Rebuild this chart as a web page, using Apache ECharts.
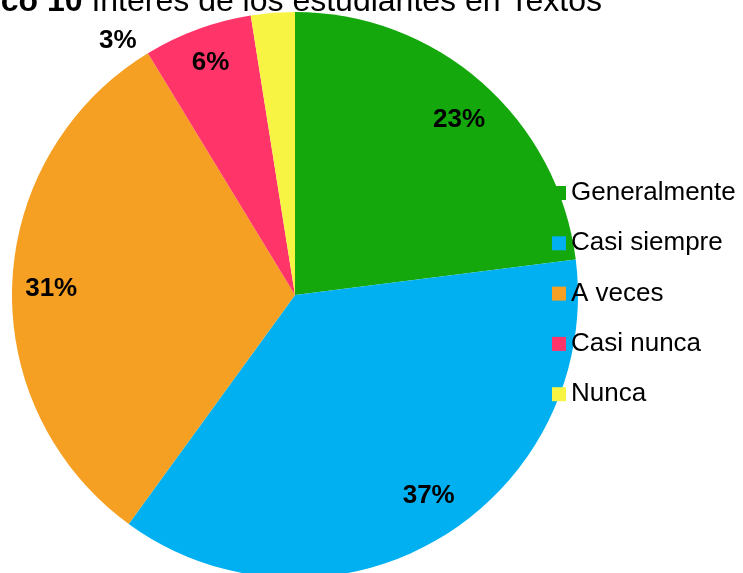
<!DOCTYPE html>
<html>
<head>
<meta charset="utf-8">
<script src="https://cdn.jsdelivr.net/npm/echarts@6/dist/echarts.min.js"></script>
<style>
  html, body { margin: 0; padding: 0; background: #fff; }
  #chart { width: 743px; height: 573px; }
</style>
</head>
<body>
<div id="chart"></div>
<script>
const categories = ["Generalmente", "Casi siempre", "A veces", "Casi nunca", "Nunca"];
const values = [23, 37, 31.3, 6.2, 2.5];
const colors = ["#15A80D", "#00B0F0", "#F5A023", "#FF3468", "#F7F444"];

const total = values.reduce((a, b) => a + b, 0);
const font = "Liberation Sans, Arial, sans-serif";

const pieData = categories.map((name, i) => ({
    name: name,
    value: values[i],
    itemStyle: { color: colors[i] }
}));

// nudge labels to where the original put them (last one sits outside)
const labelNudge = [[2, 9], [9, -10], [1, 4], [0, -2], [-158, -10]];

const chart = echarts.init(document.getElementById("chart"));

chart.setOption({
    animation: false,
    title: {
        text: "{b|Gráfico 10} Interés de los estudiantes en Textos",
        left: -74,
        top: -14,
        padding: 0,
        textStyle: {
            fontFamily: font,
            fontSize: 32,
            fontWeight: "normal",
            color: "#000",
            lineHeight: 32,
            rich: {
                b: { fontFamily: font, fontSize: 32, fontWeight: "bold", color: "#000", lineHeight: 32 }
            }
        }
    },
    legend: {
        orient: "vertical",
        left: 552,
        top: 180,
        padding: 0,
        itemWidth: 14,
        itemHeight: 14,
        itemGap: 24.3,
        icon: "rect",
        data: categories,
        textStyle: {
            fontFamily: font,
            fontSize: 26,
            color: "#000",
            lineHeight: 26
        }
    },
    series: [
        {
            type: "pie",
            center: [295, 295],
            radius: [0, 283],
            startAngle: 90,
            clockwise: true,
            label: { show: false },
            labelLine: { show: false },
            emphasis: { disabled: true },
            data: pieData
        },
        {
            // transparent ring used only to place the percent labels
            type: "pie",
            center: [295, 295],
            radius: [201, 283],
            startAngle: 90,
            clockwise: true,
            silent: true,
            avoidLabelOverlap: false,
            itemStyle: { color: "transparent" },
            emphasis: { disabled: true },
            label: {
                show: true,
                position: "inside",
                fontFamily: font,
                fontSize: 26,
                fontWeight: "bold",
                color: "#000",
                formatter: (p) => Math.round(p.value / total * 100) + "%"
            },
            labelLine: { show: false },
            labelLayout: (p) => ({ dx: labelNudge[p.dataIndex][0], dy: labelNudge[p.dataIndex][1] }),
            data: categories.map((name, i) => ({ name: name, value: values[i] }))
        }
    ]
});
</script>
</body>
</html>
